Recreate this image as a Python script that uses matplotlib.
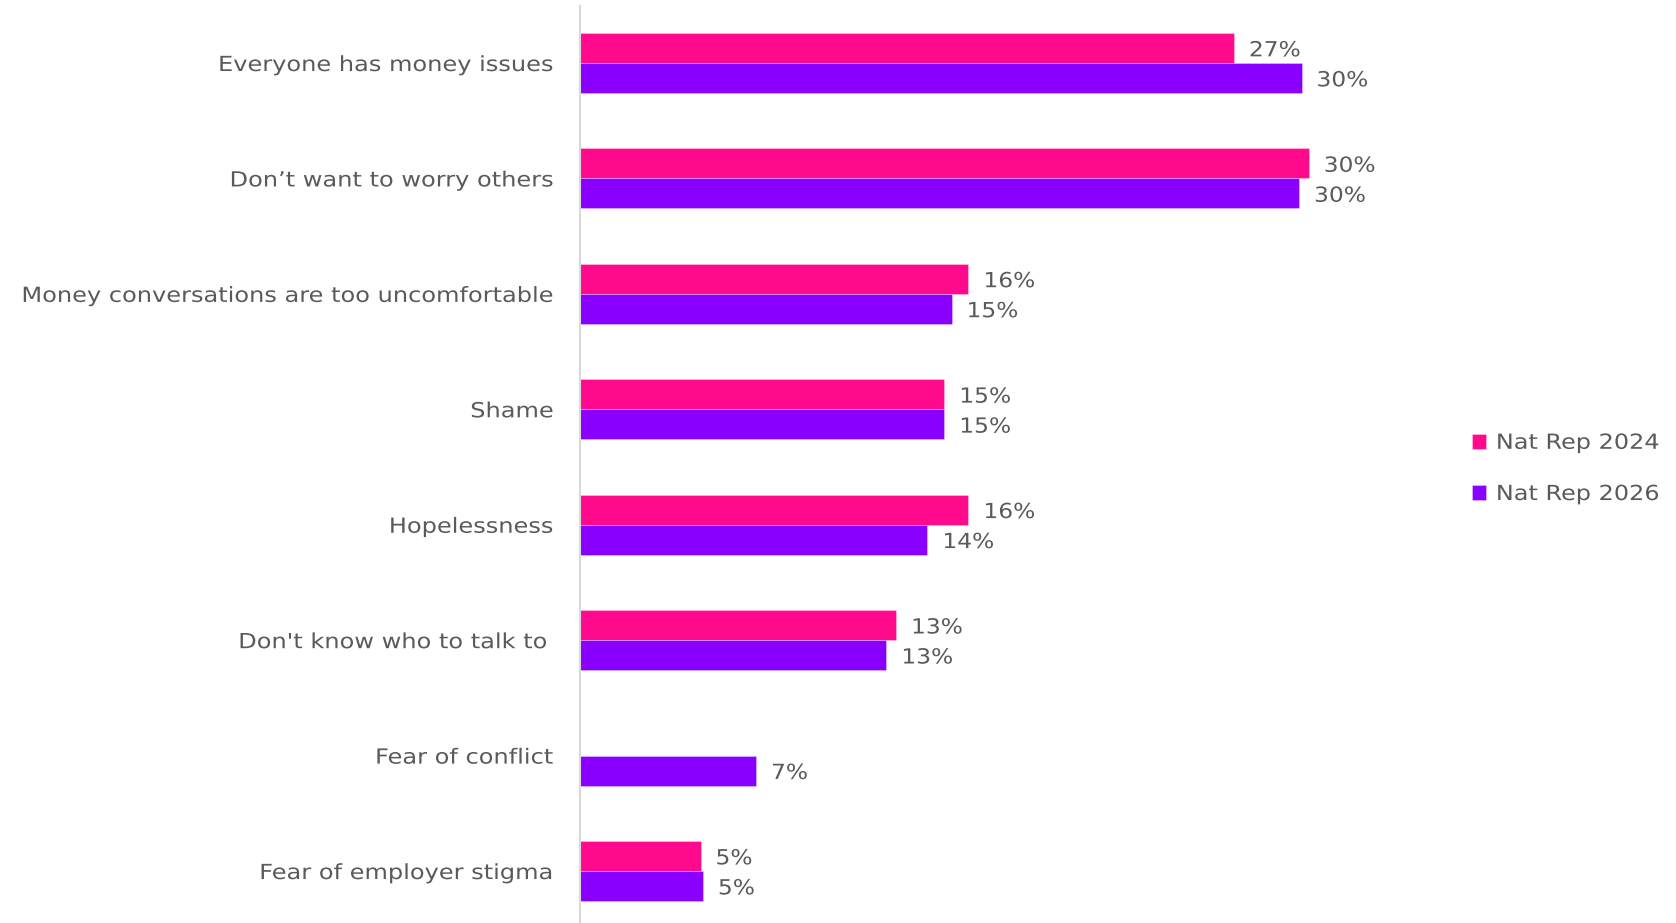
import numpy as np
import matplotlib.pyplot as plt
from matplotlib.patheffects import AbstractPathEffect
from matplotlib.transforms import Affine2D

# Reasons for not talking about money
categories = [
    "Everyone has money issues",
    "Don\u2019t want to worry others",
    "Money conversations are too uncomfortable",
    "Shame",
    "Hopelessness",
    "Don't know who to talk to ",
    "Fear of conflict",
    "Fear of employer stigma",
]
nat_rep_2024 = [27.1, 30.2, 16.1, 15.1, 16.1, 13.1, np.nan, 5.0]
nat_rep_2026 = [29.9, 29.8, 15.4, 15.1, 14.4, 12.7, 7.3, 5.1]
series_names = ["Nat Rep 2024", "Nat Rep 2026"]

pink = "#FF0A8C"
purple = "#8A00FF"
text_gray = "#5a5a5a"


class Widen(AbstractPathEffect):
    """Stretch text horizontally, keeping its left or right ink edge fixed."""

    def __init__(self, sx=1.15, anchor="left"):
        super().__init__()
        self.sx = sx
        self.anchor = anchor

    def draw_path(self, renderer, gc, tpath, affine, rgbFace=None):
        x0 = tpath.get_extents().x1 if self.anchor == "right" else 0.0
        stretch = Affine2D().translate(-x0, 0).scale(self.sx, 1).translate(x0, 0)
        renderer.draw_path(gc, tpath, stretch + affine, rgbFace)


plt.rcParams['font.family'] = ['DejaVu Sans']

fig = plt.figure(figsize=(16.76, 9.23), dpi=100)
ax = fig.add_axes([0.346, 0.0, 0.576, 0.9935])

y = np.arange(len(categories))
h = 0.26

for vals, off, col, name in [(nat_rep_2024, -h / 2, pink, series_names[0]),
                             (nat_rep_2026, h / 2, purple, series_names[1])]:
    vals = np.array(vals, dtype=float)
    ax.barh(y + off, np.nan_to_num(vals), height=h, color=col,
            edgecolor="#ffffff55", linewidth=0.6, label=name)
    for yi, v in zip(y + off, vals):
        if np.isnan(v):
            continue
        ax.text(v + 0.62, yi + 0.02, f"{v:.0f}%", va="center", ha="left",
                fontsize=15, color=text_gray, path_effects=[Widen(1.12)])

ax.set_xlim(0, 40)
ax.set_ylim(7.45, -0.494)
ax.set_yticks(y)
ax.set_yticklabels(categories, fontsize=15, color=text_gray)
for t in ax.get_yticklabels():
    t.set_path_effects([Widen(1.155, "right")])
ax.tick_params(axis="y", length=0, pad=19)
ax.set_xticks([])

for s in ["top", "right", "bottom"]:
    ax.spines[s].set_visible(False)
ax.spines["left"].set_color("#d9d9d9")
ax.spines["left"].set_linewidth(1.5)

leg = fig.legend(loc="center left", bbox_to_anchor=(0.872, 0.4925), frameon=False,
                 fontsize=15, labelcolor=text_gray, handlelength=0.7, handleheight=0.7,
                 handletextpad=0.45, labelspacing=1.5, borderpad=0)
for t in leg.get_texts():
    t.set_path_effects([Widen(1.15)])

fig.savefig("out.png", dpi=100)
